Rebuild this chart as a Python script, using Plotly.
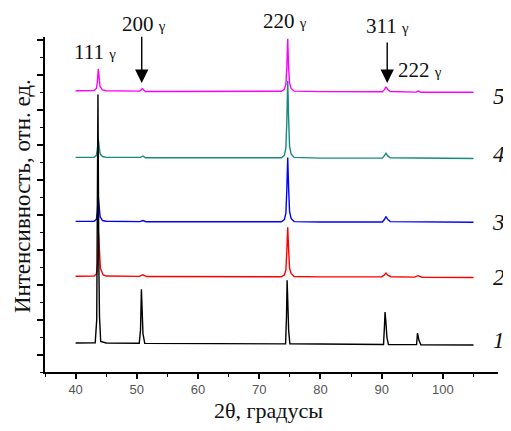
import plotly.graph_objects as go

# 2θ positions and intensities (arbitrary units, offset stacked)
x1 = [40, 43.2, 43.45, 43.55, 43.65, 43.8, 43.9, 44.1, 45, 50.4, 50.6, 50.75, 50.85, 51.0, 51.3, 60, 74.3, 74.45, 74.55, 74.7, 74.8, 75.0, 80, 90.3, 90.45, 90.55, 90.7, 90.85, 91.1, 95.7, 95.85, 95.95, 96.1, 96.4, 105]
y1 = [1.66, 1.68, 3.0, 8.0, 15.9, 6.0, 3.2, 1.75, 1.66, 1.65, 2.4, 4.74, 3.6, 2.2, 1.64, 1.62, 1.61, 3.2, 5.26, 3.6, 2.4, 1.62, 1.6, 1.58, 2.6, 3.43, 2.8, 2.0, 1.58, 1.57, 2.23, 2.0, 1.8, 1.56, 1.55]

x2 = [40, 43.0, 43.4, 43.6, 43.75, 43.9, 44.05, 44.5, 45, 50.4, 51.0, 51.6, 60, 73.6, 74.1, 74.35, 74.5, 74.65, 74.8, 74.95, 75.2, 75.7, 80, 90.0, 90.4, 90.7, 91.0, 91.5, 95.4, 95.9, 96.1, 96.6, 105]
y2 = [5.49, 5.5, 5.62, 6.2, 7.94, 6.6, 5.95, 5.56, 5.5, 5.48, 5.57, 5.47, 5.46, 5.46, 5.56, 5.85, 6.9, 8.29, 7.0, 5.95, 5.65, 5.47, 5.45, 5.45, 5.55, 5.67, 5.55, 5.46, 5.44, 5.52, 5.5, 5.43, 5.42]

x3 = [40, 43.0, 43.4, 43.55, 43.7, 43.85, 44.0, 44.4, 45, 50.5, 51.0, 51.5, 60, 73.6, 74.1, 74.35, 74.5, 74.65, 74.8, 74.95, 75.2, 75.7, 80, 90.1, 90.45, 90.7, 90.95, 91.4, 105]
y3 = [8.63, 8.64, 8.75, 9.2, 10.1, 9.3, 8.9, 8.68, 8.64, 8.62, 8.68, 8.61, 8.61, 8.61, 8.73, 9.1, 10.4, 12.29, 10.5, 9.2, 8.8, 8.62, 8.6, 8.6, 8.74, 8.91, 8.76, 8.62, 8.58]

x4 = [40, 43.0, 43.4, 43.55, 43.7, 43.85, 44.0, 44.4, 45, 50.6, 51.0, 51.4, 60, 73.6, 74.1, 74.35, 74.5, 74.65, 74.8, 74.95, 75.2, 75.7, 80, 90.1, 90.45, 90.7, 90.95, 91.4, 105]
y4 = [12.3, 12.31, 12.42, 12.75, 13.37, 12.8, 12.5, 12.35, 12.3, 12.3, 12.38, 12.28, 12.28, 12.28, 12.42, 12.85, 14.3, 16.69, 14.5, 12.95, 12.5, 12.3, 12.26, 12.26, 12.4, 12.54, 12.4, 12.28, 12.24]

x5 = [40, 43.0, 43.4, 43.55, 43.7, 43.85, 44.0, 44.4, 45, 50.5, 50.9, 51.4, 60, 73.6, 74.1, 74.35, 74.5, 74.65, 74.8, 74.95, 75.2, 75.7, 80, 90.1, 90.45, 90.7, 90.95, 91.4, 95.6, 96.0, 96.4, 105]
y5 = [16.12, 16.13, 16.25, 16.6, 17.37, 16.7, 16.35, 16.17, 16.12, 16.1, 16.24, 16.08, 16.08, 16.09, 16.2, 16.5, 17.4, 19.1, 17.4, 16.55, 16.25, 16.1, 16.07, 16.06, 16.18, 16.35, 16.2, 16.08, 16.04, 16.1, 16.03, 16.03]

series_names = ["1", "2", "3", "4", "5"]
series_colors = ["#000000", "#ff0000", "#0000ff", "#168a7e", "#ff00ff"]

# peak labels: (text, x data, y paper)
peak_labels = [("111", 43.2, 0.955), ("200", 51.2, 1.039), ("220", 74.2, 1.048), ("311", 90.9, 1.033), ("222", 96.3, 0.901)]
# arrows: (x, tip y, tail y)
arrows = [(50.8, 16.57, 19.3), (90.9, 16.57, 18.97)]
# series number labels positions (x paper, y data)
label_x = 1.002
label_y = [1.83, 5.43, 8.57, 12.46, 15.77]

xs = [x1, x2, x3, x4, x5]
ys = [y1, y2, y3, y4, y5]

fig = go.Figure()
for i in [4, 3, 2, 1, 0]:
    fig.add_trace(go.Scatter(x=xs[i], y=ys[i], mode="lines",
                             line=dict(color=series_colors[i], width=1.4),
                             showlegend=False, hoverinfo="skip"))

serif = "Liberation Serif, Times New Roman, serif"
ann = []
for t, x, y in peak_labels:
    ann.append(dict(x=x, y=y, xref="x", yref="paper", showarrow=False,
                    xanchor="center", yanchor="middle",
                    text=t + " <span style='font-size:15px'>γ</span>",
                    font=dict(family=serif, size=21, color="#111")))
for x, ty, ay in arrows:
    ann.append(dict(x=x, y=ty, ax=x, ay=ay, xref="x", yref="y", axref="x", ayref="y",
                    showarrow=True, arrowhead=2, arrowsize=1.9, arrowwidth=1.4,
                    arrowcolor="#000", text=""))
for name, y in zip(series_names, label_y):
    ann.append(dict(x=label_x, y=y, xref="paper", yref="y", showarrow=False,
                    xanchor="center", yanchor="middle",
                    text="<i>" + name + "</i>",
                    font=dict(family=serif, size=23, color="#111")))
ann.append(dict(x=0.494, y=-0.116, xref="paper", yref="paper", showarrow=False,
                text="2θ, градусы", xanchor="center", yanchor="middle",
                font=dict(family=serif, size=22, color="#111")))
ann.append(dict(x=-0.0508, y=0.525, xref="paper", yref="paper", showarrow=False,
                text="Интенсивность, отн. ед.", textangle=-90,
                xanchor="center", yanchor="middle",
                font=dict(family=serif, size=23, color="#111")))

fig.update_layout(
    width=503, height=423,
    margin=dict(l=37, r=13, t=29, b=59),
    plot_bgcolor="white", paper_bgcolor="white",
    annotations=ann,
    xaxis=dict(range=[35, 109], showline=True, linecolor="black", linewidth=1.5,
               ticks="outside", ticklen=5, tickwidth=1.5, tickcolor="black",
               dtick=10, tick0=0, showgrid=False, zeroline=False,
               tickfont=dict(family="Liberation Sans, Arial", size=13, color="#555"),
               minor=dict(dtick=5, tick0=0, ticks="outside", ticklen=3, tickwidth=1.2, tickcolor="black")),
    yaxis=dict(range=[0, 19.2], showline=True, linecolor="black", linewidth=1.5,
               ticks="outside", ticklen=6, tickwidth=1.5, tickcolor="black",
               dtick=2, tick0=1, showticklabels=False, showgrid=False, zeroline=False,
               minor=dict(dtick=1, tick0=0, ticks="outside", ticklen=3, tickwidth=1.2, tickcolor="black")),
)
fig.write_html("out.html")
